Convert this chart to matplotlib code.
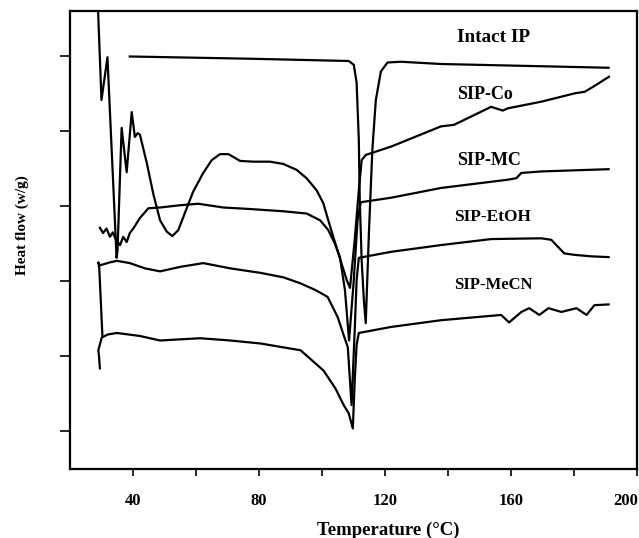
import matplotlib
matplotlib.use("Agg")
import matplotlib.pyplot as plt

# DSC curves (temperature in degC, heat flow in arbitrary offset units)
intact_t = [39.0, 77.3, 108.5, 110.1, 111.0, 111.7, 112.0, 112.6, 113.3, 113.9, 114.9, 116.0,
            117.1, 118.7, 120.8, 125.0, 137.8, 191.0]
intact_hf = [5.99, 5.96, 5.93, 5.88, 5.64, 4.88, 4.08, 3.28, 2.75, 2.44, 3.64, 4.75,
             5.41, 5.79, 5.91, 5.92, 5.89, 5.84]

co_t = [28.9, 30.0, 31.9, 34.8, 35.1, 36.4, 38.0, 39.6, 40.6, 41.5, 42.2, 44.4, 46.4, 48.6,
        50.7, 52.5, 54.4, 56.5, 59.1, 62.3, 65.0, 67.6, 70.3, 72.4, 74.0, 78.2, 83.5, 87.7,
        92.0, 95.1, 98.3, 100.4, 102.0, 103.6, 105.2, 106.4, 107.9, 108.9, 110.4, 111.7,
        112.6, 113.9, 121.9, 137.8, 141.9, 148.3, 153.7, 157.4, 159.0, 169.8, 180.3, 183.4,
        186.6, 191.1]
co_hf = [6.62, 5.41, 5.98, 3.31, 3.41, 5.04, 4.45, 5.25, 4.92, 4.97, 4.95, 4.57, 4.17, 3.81,
         3.66, 3.60, 3.68, 3.91, 4.19, 4.44, 4.61, 4.69, 4.69, 4.64, 4.60, 4.59, 4.59, 4.56,
         4.48, 4.37, 4.21, 4.04, 3.81, 3.59, 3.37, 3.21, 3.01, 2.91, 3.55, 4.21,
         4.61, 4.68, 4.79, 5.06, 5.08, 5.21, 5.32, 5.27, 5.30, 5.39, 5.50, 5.52,
         5.60, 5.72]

mc_t = [29.5, 30.5, 31.6, 32.7, 33.6, 34.6, 35.9, 36.9, 38.0, 39.0, 40.1, 42.2, 44.9, 48.6,
        54.9, 60.7, 68.7, 77.1, 87.7, 95.1, 99.4, 102.0, 104.1, 105.7, 107.3, 108.6, 110.1,
        111.3, 112.3, 121.9, 137.8, 159.0, 161.7, 163.3, 169.6, 191.0]
mc_hf = [3.71, 3.64, 3.70, 3.59, 3.65, 3.55, 3.48, 3.59, 3.52, 3.64, 3.70, 3.84, 3.97, 3.98,
         4.01, 4.03, 3.98, 3.96, 3.93, 3.90, 3.81, 3.68, 3.50, 3.32, 2.88, 2.21, 3.01,
         3.81, 4.05, 4.11, 4.24, 4.35, 4.37, 4.44, 4.46, 4.49]

etoh_t = [30.3, 29.3, 29.0, 29.5, 32.7, 34.9, 39.0, 43.8, 48.6, 55.0, 62.3, 70.9, 80.5, 87.8,
          93.2, 98.0, 101.8, 105.0, 106.9, 108.2, 109.4, 110.4, 111.0, 111.7, 121.9, 137.8,
          153.7, 169.6, 172.8, 176.9, 180.1, 185.5, 191.0]
etoh_hf = [2.27, 3.17, 3.25, 3.21, 3.25, 3.27, 3.24, 3.17, 3.13, 3.19, 3.24, 3.17, 3.11, 3.05,
           2.97, 2.88, 2.79, 2.52, 2.28, 2.12, 1.35, 2.35, 3.01, 3.31, 3.39, 3.48,
           3.56, 3.57, 3.55, 3.37, 3.35, 3.33, 3.32]

mecn_t = [29.5, 29.2, 29.0, 30.1, 32.0, 34.9, 42.2, 48.6, 61.3, 70.9, 80.5, 93.2, 100.5, 104.3,
          106.9, 108.5, 109.8, 110.4, 111.0, 111.7, 121.9, 137.8, 156.9, 159.4, 163.3, 165.8,
          169.0, 171.9, 176.0, 180.8, 184.0, 186.5, 191.0]
mecn_hf = [1.84, 2.01, 2.08, 2.25, 2.29, 2.31, 2.27, 2.21, 2.24, 2.21, 2.17, 2.08, 1.81, 1.57,
           1.35, 1.24, 1.04, 1.68, 2.15, 2.31, 2.39, 2.48, 2.55, 2.45, 2.59, 2.64,
           2.55, 2.64, 2.59, 2.64, 2.55, 2.68, 2.69]

labels = ['Intact IP', 'SIP-Co', 'SIP-MC', 'SIP-EtOH', 'SIP-MeCN']
label_t = [142.9, 142.9, 142.9, 141.9, 141.9]
label_hf = [6.24, 5.48, 4.61, 3.85, 2.95]
label_size = [13.8, 13.0, 13.0, 12.4, 12.0]

xticks = [40, 80, 120, 160, 200]
xticks_minor = [60, 100, 140, 180]
yticks = [1, 2, 3, 4, 5, 6]

plt.rcParams['font.family'] = ['Liberation Serif', 'DejaVu Serif']
plt.rcParams['font.weight'] = 'bold'

fig = plt.figure(figsize=(6.39, 5.38), dpi=100)
ax = fig.add_axes([0.1095, 0.1283, 0.8873, 0.8519])

for t, hf in [(intact_t, intact_hf), (co_t, co_hf), (mc_t, mc_hf),
              (etoh_t, etoh_hf), (mecn_t, mecn_hf)]:
    ax.plot(t, hf, color='black', lw=1.6, solid_joinstyle='round')

for name, t, hf, fs in zip(labels, label_t, label_hf, label_size):
    ax.text(t, hf, name, fontsize=fs, fontweight='bold', ha='left', va='center')

ax.set_xlim(20, 200)
ax.set_ylim(0.5, 6.6)
# the last label (200) is drawn separately so it can sit flush with the right edge
ax.set_xticks(xticks, [str(v) for v in xticks[:-1]] + [''])
ax.set_xticks(xticks_minor, minor=True)
ax.annotate(str(xticks[-1]), xy=(xticks[-1], 0), xycoords=('data', 'axes fraction'),
            xytext=(0.5, -17), textcoords='offset points', ha='right', va='top',
            fontsize=12, fontweight='bold')
ax.set_yticks(yticks)
ax.set_yticklabels([])
ax.tick_params(axis='x', which='both', direction='out', length=5, width=1.2,
               labelsize=12, pad=12)
ax.tick_params(axis='y', direction='out', length=7, width=1.2)
for s in ax.spines.values():
    s.set_linewidth(1.6)

ax.set_xlabel('Temperature (\u00b0C)', fontsize=13.5, fontweight='bold')
ax.xaxis.set_label_coords(0.561, -0.115)
ax.set_ylabel('Heat flow (w/g)', fontsize=11, fontweight='bold')
ax.yaxis.set_label_coords(-0.073, 0.532)

fig.savefig('out.png', dpi=100)
